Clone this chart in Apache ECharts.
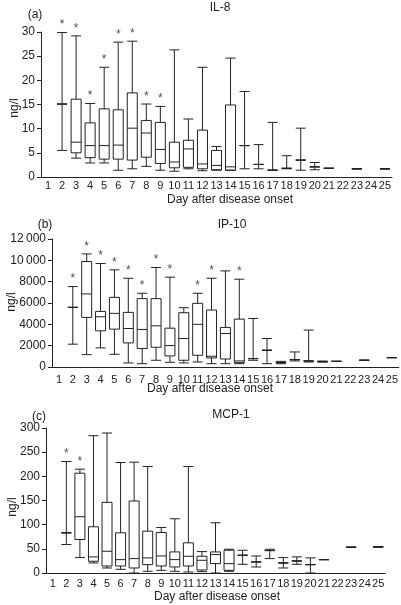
<!DOCTYPE html>
<html><head><meta charset="utf-8">
<script src="https://cdn.jsdelivr.net/npm/echarts@6/dist/echarts.min.js"></script>
<style>html,body{margin:0;padding:0;background:#fff}#c{width:401px;height:605px}</style>
</head><body><div id="c"></div>
<script>
const days = ['1','2','3','4','5','6','7','8','9','10','11','12','13','14','15','16','17','18','19','20','21','22','23','24','25'];

// IL-8 (ng/l)
const il8Low = [null,5.5,3.9,2.9,2.9,1.4,1.7,2.2,1.4,1.2,1.7,1.3,1.4,1.4,1.7,1.7,1.4,1.7,1.4,1.5,1.8,null,1.7,null,1.7];
const il8Q1  = [null,15.1,5.0,4.0,3.7,3.7,3.5,4.1,2.8,1.9,2.0,1.7,1.5,1.4,6.5,2.6,1.4,1.8,3.5,2.1,1.8,null,1.7,null,1.7];
const il8Med = [null,15.1,7.2,6.5,6.5,6.6,10.1,9.1,5.7,3.1,5.8,2.7,2.4,2.1,6.5,2.6,1.4,1.8,3.5,2.1,1.8,null,1.7,null,1.7];
const il8Q3  = [null,15.1,16.1,11.2,14.1,13.9,17.4,11.7,11.3,7.2,7.6,9.7,5.5,14.9,6.5,2.6,1.4,1.8,3.5,2.1,1.8,null,1.7,null,1.7];
const il8Up  = [null,29.9,29.2,15.2,22.7,27.9,28.1,15.1,14.6,26.3,12.0,22.7,6.3,24.6,17.7,6.7,11.3,4.4,10.1,3.0,1.8,null,1.7,null,1.7];
const il8Stars = ['2','3','4','5','6','7','8','9'];

// IP-10 (ng/l)
const ip10Low = [null,2140,1160,1790,1190,380,310,630,440,380,470,310,310,310,630,310,310,570,470,470,530,null,630,null,880];
const ip10Q1  = [null,5590,4650,3390,3550,2260,1730,1850,1040,630,1100,850,750,410,790,1570,410,690,570,500,530,null,630,null,880];
const ip10Med = [null,5590,6850,4710,5030,3610,3520,3860,2010,2670,4000,1010,3140,570,790,1570,410,690,570,500,530,null,630,null,880];
const ip10Q3  = [null,5590,9890,5210,6530,5120,6410,6410,3640,5090,5970,5340,3710,4490,790,1570,410,690,570,500,530,null,630,null,880];
const ip10Up  = [null,7540,10600,9700,9110,8320,6910,9330,8420,5560,6910,8320,9010,8230,4550,2670,530,1410,3460,560,530,null,630,null,880];
const ip10Stars = ['2','3','4','5','6','7','8','9','11','12','14'];

// MCP-1 (ng/l)
const mcpLow = [null,58.9,31.9,20.8,10.4,7.6,0,3.5,5.5,3.5,2.1,2.8,0,3.5,18.0,12.5,29.8,10.4,18.0,0,27.7,null,53.3,null,54.0];
const mcpQ1  = [null,83.1,69.3,24.3,14.5,14.5,10.4,17.3,14.5,12.5,14.5,6.2,19.4,5.5,36.7,22.9,46.4,20.8,24.9,17.3,27.7,null,53.3,null,54.0];
const mcpMed = [null,83.1,116.4,33.3,45.0,27.7,29.8,31.2,35.3,27.7,34.6,26.3,38.1,19.4,36.7,22.9,46.4,20.8,24.9,17.3,27.7,null,53.3,null,54.0];
const mcpQ3  = [null,83.1,206.5,95.6,146.2,83.1,149.0,86.6,83.8,43.6,62.4,34.6,43.6,47.1,36.7,22.9,46.4,20.8,24.9,17.3,27.7,null,53.3,null,54.0];
const mcpUp  = [null,230.7,214.8,284.0,289.6,228.6,229.3,220.3,94.2,112.2,220.3,44.3,103.9,49.2,47.1,35.3,49.2,31.9,33.3,31.2,27.7,null,53.3,null,54.0];
const mcpStars = ['2','3'];

const yTicksA = {min:0, max:30, interval:5};
const yTicksB = {min:0, max:12000, interval:2000};
const yTicksC = {min:0, max:300, interval:50};

const FONT = 'Liberation Sans';
const INK = '#222';

function boxData(lo,q1,md,q3,up){
  return days.map((d,i)=> lo[i]==null ? ['-','-','-','-','-'] : [lo[i],q1[i],md[i],q3[i],up[i]]);
}
function starData(stars, up){
  return stars.map(d=>[d, up[days.indexOf(d)]]);
}
function fmtThin(v){
  if (v>=10000){ const s=String(v); return s.slice(0,s.length-3)+'\u2009'+s.slice(-3); }
  return String(v);
}

const grids = [
  {left:41, top:32, width:351, height:145},
  {left:52, top:239, width:348, height:128},
  {left:46, top:428, width:339, height:145}
];
const xMargins = [3, 7, 5];
const yRanges = [yTicksA, yTicksB, yTicksC];

const xAxes = grids.map((g,i)=>({
  type:'category', gridIndex:i, data:days, boundaryGap:true,
  axisLine:{show:true, lineStyle:{color:INK, width:1}},
  axisTick:{show:false},
  axisLabel:{interval:0, color:INK, fontFamily:FONT, fontSize:11, margin:xMargins[i]},
  splitLine:{show:false}
}));
const yAxes = yRanges.map((r,i)=>({
  type:'value', gridIndex:i, min:r.min, max:r.max, interval:r.interval,
  axisLine:{show:true, lineStyle:{color:INK, width:1}},
  axisTick:{show:true, length:4, lineStyle:{color:INK}},
  axisLabel:{color:INK, fontFamily:FONT, fontSize:12, margin:6, formatter: i===1 ? fmtThin : null},
  splitLine:{show:false}
}));

function boxSeries(i, data){
  return {type:'boxplot', xAxisIndex:i, yAxisIndex:i, data:data, boxWidth:[10,10],
    itemStyle:{color:'#fff', borderColor:INK, borderWidth:1}, emphasis:{disabled:true}, animation:false};
}
function starSeries(i, data){
  return {type:'scatter', xAxisIndex:i, yAxisIndex:i, data:data, symbolSize:1, itemStyle:{color:'rgba(0,0,0,0)'},
    label:{show:true, formatter:'*', position:'top', distance:1, color:INK, fontFamily:FONT, fontSize:12}, animation:false, silent:true};
}

const texts = [
  ['(a)', 35, 15, 0], ['IL-8', 220, 8, 0], ['ng/l', 15, 108, 90], ['Day after disease onset', 230, 200, 0],
  ['(b)', 45, 225, 0], ['IP-10', 232, 225, 0], ['ng/l', 12, 302, 90], ['Day after disease onset', 210, 389, 0],
  ['(c)', 39, 417, 0], ['MCP-1', 231, 415, 0], ['ng/l', 13, 507, 90], ['Day after disease onset', 217, 597, 0]
];

const chart = echarts.init(document.getElementById('c'), null, {renderer:'canvas'});
chart.setOption({
  animation:false,
  backgroundColor:'#fff',
  grid:grids,
  xAxis:xAxes,
  yAxis:yAxes,
  series:[
    boxSeries(0, boxData(il8Low,il8Q1,il8Med,il8Q3,il8Up)),
    starSeries(0, starData(il8Stars, il8Up)),
    boxSeries(1, boxData(ip10Low,ip10Q1,ip10Med,ip10Q3,ip10Up)),
    starSeries(1, starData(ip10Stars, ip10Up)),
    boxSeries(2, boxData(mcpLow,mcpQ1,mcpMed,mcpQ3,mcpUp)),
    starSeries(2, starData(mcpStars, mcpUp))
  ],
  graphic: texts.map(t=>({type:'text', x:t[1], y:t[2], rotation: t[3] ? Math.PI/2 : 0,
    style:{text:t[0], fill:INK, font:'12px "'+FONT+'"', textAlign:'center', textVerticalAlign:'middle'}}))
});
</script>
</body></html>
